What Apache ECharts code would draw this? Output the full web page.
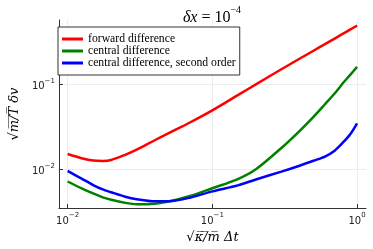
<!DOCTYPE html>
<html><head><meta charset="utf-8">
<script src="https://cdn.jsdelivr.net/npm/echarts@6/dist/echarts.min.js"></script>
<style>html,body{margin:0;padding:0;background:#fff}#c{width:373px;height:249px}</style>
</head><body><div id="c"></div>
<script>
// sqrt(kappa/m) * dt values
const dt = [0.01, 0.0125, 0.015, 0.0175, 0.02, 0.025, 0.03, 0.04, 0.05, 0.07, 0.1, 0.15, 0.2, 0.3, 0.4, 0.5, 0.6, 0.7, 0.8, 0.9, 1.0];
const forwardDiff = [0.0153, 0.01365, 0.0128, 0.01265, 0.0130, 0.01496, 0.0172, 0.0222, 0.0269, 0.0359, 0.0499, 0.0753, 0.101, 0.152, 0.2018, 0.251, 0.300, 0.349, 0.398, 0.447, 0.495];
const centralDiff = [0.00726, 0.00603, 0.00525, 0.00473, 0.00442, 0.00407, 0.00392, 0.00398, 0.00422, 0.0049, 0.00605, 0.00776, 0.01012, 0.0180, 0.0285, 0.0419, 0.0589, 0.0787, 0.1047, 0.1315, 0.162];
const centralDiff2 = [0.00966, 0.00785, 0.0066, 0.00586, 0.00543, 0.00481, 0.00449, 0.00424, 0.00425, 0.00468, 0.00556, 0.00653, 0.00767, 0.00948, 0.01114, 0.01274, 0.01429, 0.01675, 0.0209, 0.0263, 0.0351];
const seriesNames = ['forward difference', 'central difference', 'central difference, second order'];
const seriesColors = ['#ff0000', '#008000', '#0000ff'];
const xTickValues = [0.01, 0.1, 1];
const yTickValues = [0.01, 0.1];

const chart = echarts.init(document.getElementById('c'), null, {renderer: 'canvas'});
function pow10Label(v) {
  const e = Math.round(Math.log10(v));
  return '{b|10}{s|' + (e < 0 ? '\u2212' + (-e) : String(e)) + '}';
}
const tickRich = {
  b: {fontSize: 10, fontFamily: 'DejaVu Sans', color: '#222', lineHeight: 14, verticalAlign: 'bottom'},
  s: {fontSize: 7, fontFamily: 'DejaVu Sans', color: '#222', lineHeight: 14, verticalAlign: 'top'}
};
function mk(vals) { return dt.map((x, i) => [x, vals[i]]); }
const allVals = [forwardDiff, centralDiff, centralDiff2];
chart.setOption({
  animation: false,
  backgroundColor: '#fff',
  title: {
    text: '{i|\u03B4x}{n| = 10}{s|\u22124}',
    left: 207, top: 0, textAlign: 'center',
    textStyle: {
      fontWeight: 'normal',
      rich: {
        i: {fontFamily: 'Liberation Serif', fontStyle: 'italic', fontWeight: 'normal', fontSize: 16, color: '#000', lineHeight: 21, verticalAlign: 'bottom'},
        n: {fontFamily: 'Liberation Serif', fontWeight: 'normal', fontSize: 16, color: '#000', lineHeight: 21, verticalAlign: 'bottom'},
        s: {fontFamily: 'Liberation Serif', fontWeight: 'normal', fontSize: 10, color: '#000', lineHeight: 21, verticalAlign: 'top'}
      }
    }
  },
  legend: {
    orient: 'vertical', left: 58, top: 27,
    data: seriesNames,
    icon: 'rect', itemWidth: 21, itemHeight: 3, itemGap: 0,
    padding: [6, 4, 6, 4],
    borderColor: '#333', borderWidth: 1, backgroundColor: '#fff',
    textStyle: {fontFamily: 'Liberation Serif', fontSize: 11.7, color: '#000', lineHeight: 11.8}
  },
  grid: {left: 48, right: 7, top: 20, bottom: 38, containLabel: false},
  xAxis: {
    type: 'log', logBase: 10, min: 0.00871, max: 1.153,
    name: '\u221A\u03BA\u0305/\u0305m\u0305 \u0394t', nameLocation: 'middle', nameGap: 20,
    nameTextStyle: {fontFamily: 'DejaVu Serif', fontStyle: 'italic', fontSize: 13, color: '#000'},
    axisLine: {show: true, onZero: false, lineStyle: {color: '#333', width: 1}},
    axisTick: {show: true, inside: true, length: 4, lineStyle: {color: '#333'}, customValues: xTickValues},
    axisLabel: {customValues: xTickValues, formatter: pow10Label, rich: tickRich, margin: 4},
    splitLine: {show: true, lineStyle: {color: '#ececec', width: 1}},
    minorTick: {show: false}, minorSplitLine: {show: false}
  },
  yAxis: {
    type: 'log', logBase: 10, min: 0.003532, max: 0.5768,
    name: '\u221Am\u0305/\u0305T\u0305 \u03B4v', nameLocation: 'middle', nameGap: 28,
    nameTextStyle: {fontFamily: 'DejaVu Serif', fontStyle: 'italic', fontSize: 13, color: '#000'},
    axisLine: {show: true, onZero: false, lineStyle: {color: '#333', width: 1}},
    axisTick: {show: true, inside: true, length: 4, lineStyle: {color: '#333'}, customValues: yTickValues},
    axisLabel: {customValues: yTickValues, formatter: pow10Label, rich: tickRich, margin: 4},
    splitLine: {show: true, lineStyle: {color: '#ececec', width: 1}},
    minorTick: {show: false}, minorSplitLine: {show: false}
  },
  series: seriesNames.map((n, i) => ({
    name: n, type: 'line', data: mk(allVals[i]),
    showSymbol: false, symbol: 'none', smooth: 0.3,
    lineStyle: {color: seriesColors[i], width: 2.5},
    itemStyle: {color: seriesColors[i]}
  }))
});
</script></body></html>
